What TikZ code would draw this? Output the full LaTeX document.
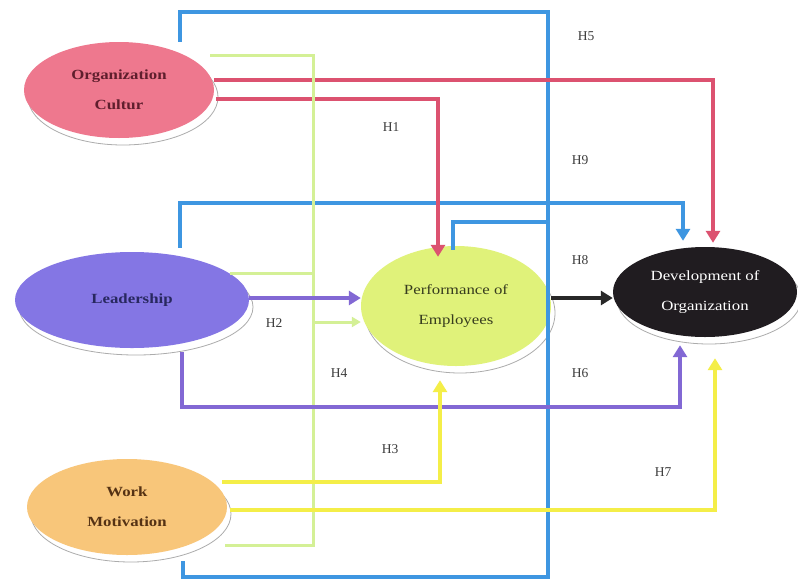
\documentclass[tikz,border=0pt]{standalone}
\usepackage{fontspec}
\setmainfont{Liberation Serif}
\newfontfamily\wfont[FakeStretch=1.2]{Liberation Serif}
\usetikzlibrary{shapes.geometric,arrows.meta}
\definecolor{ocfill}{RGB}{238,120,142}
\definecolor{ldfill}{RGB}{132,118,228}
\definecolor{wmfill}{RGB}{248,198,122}
\definecolor{pffill}{RGB}{224,242,122}
\definecolor{dvfill}{RGB}{32,28,32}
\definecolor{octext}{RGB}{95,30,45}
\definecolor{ldtext}{RGB}{40,40,95}
\definecolor{wmtext}{RGB}{85,50,20}
\definecolor{pftext}{RGB}{55,60,30}
\definecolor{blueln}{RGB}{62,150,225}
\definecolor{redln}{RGB}{220,82,112}
\definecolor{greenln}{RGB}{212,240,150}
\definecolor{purpln}{RGB}{130,104,212}
\definecolor{yellln}{RGB}{244,238,72}
\definecolor{blackln}{RGB}{40,40,40}
\definecolor{lblc}{RGB}{60,60,60}
\tikzset{
  var/.style={ellipse, inner sep=0pt, align=center,
    font=\wfont\fontsize{14}{30}\selectfont,
    preaction={fill=white, draw=gray!65, line width=0.8pt,
      transform canvas={shift={(4pt,-7pt)}}}},
  conn/.style={line width=4pt, line join=miter, -{Triangle[length=12pt,width=14pt]}},
  plain/.style={line width=4pt, line join=miter},
  gconn/.style={line width=3pt, color=greenln},
  hlab/.style={font=\fontsize{13.5}{13.5}\selectfont, text=lblc, inner sep=0pt}
}
\begin{document}
\begin{tikzpicture}[x=1pt,y=-1pt]
\fill[white] (0,0) rectangle (798,582);
\useasboundingbox (0,0) rectangle (798,582);

% nodes
\node[var, fill=ocfill, minimum width=190pt, minimum height=96pt,
  font=\wfont\bfseries\fontsize{14}{30}\selectfont, text=octext] (oc) at (119,90)
  {Organization\\Cultur};
\node[var, fill=ldfill, minimum width=234pt, minimum height=96pt,
  font=\wfont\bfseries\fontsize{14}{30}\selectfont, text=ldtext] (ld) at (132,300)
  {Leadership};
\node[var, fill=wmfill, minimum width=200pt, minimum height=96pt,
  font=\wfont\bfseries\fontsize{14}{30}\selectfont, text=wmtext] (wm) at (127,507)
  {Work\\Motivation};
\node[var, fill=pffill, minimum width=190pt, minimum height=120pt, text=pftext] (pf) at (456,306)
  {Performance of\\Employees};
\node[var, fill=dvfill, minimum width=184pt, minimum height=90pt, text=white] (dv) at (705,292)
  {Development of\\Organization};

% named points
\coordinate (bx) at (548,12);
\coordinate (gx) at (313,55);

% blue connectors
\draw[plain, blueln] ([xshift=61pt]oc.north) -- ++(0,-30) -| (bx |- wm.south) |- ++(-365,22) -- ++(0,-16);
\draw[conn, blueln] ([xshift=48pt,yshift=4pt]ld.north) |- (203pt,203) -| ([xshift=-22pt,yshift=6pt]dv.north);
\coordinate (bc) at (548,222);
\draw[plain, blueln] (bc) -| ([xshift=-3pt,yshift=-4pt]pf.north);

% red connectors
\draw[conn, redln] (oc.east |- 0,80) -- (713,80) -- ([xshift=8pt,yshift=4pt]dv.north);
\draw[conn, redln] ([xshift=2pt]oc.east |- 0,99) -| ([xshift=-18pt,yshift=-11pt]pf.north);

% green connectors
\draw[gconn] (210,55) -- (gx) -- (313,545) -- (225,545);
\draw[gconn] (230,273) -- (313,273);
\draw[gconn, -{Triangle[length=9pt,width=10pt]}] (313,322) -- (pf.west |- 0,322);

% purple connectors
\draw[conn, purpln] (ld.east |- 0,298) -- (pf.west |- 0,298);
\draw[conn, purpln] ([xshift=50pt,yshift=-4pt]ld.south) |- (400,407) -| ([xshift=-25pt,yshift=-8pt]dv.south);

% yellow connectors
\draw[conn, yellln] ([xshift=-5pt]wm.east |- 0,482) -| ([xshift=-16pt,yshift=-14pt]pf.south);
\draw[conn, yellln] ([xshift=3pt]wm.east |- 0,510) -| ([xshift=10pt,yshift=-21pt]dv.south);

% black connector
\draw[conn, blackln] (pf.east |- 0,298) -- (dv.west |- 0,298);

% labels
\node[hlab] (h5) at (586,36) {H5};
\node[hlab] (h1) at (391,127) {H1};
\node[hlab] (h9) at (580,160) {H9};
\node[hlab] (h8) at (580,260) {H8};
\node[hlab] (h2) at (274,323) {H2};
\node[hlab] (h4) at (339,373) {H4};
\node[hlab] (h6) at (580,373) {H6};
\node[hlab] (h3) at (390,449) {H3};
\node[hlab] (h7) at (663,472) {H7};
\end{tikzpicture}
\end{document}
